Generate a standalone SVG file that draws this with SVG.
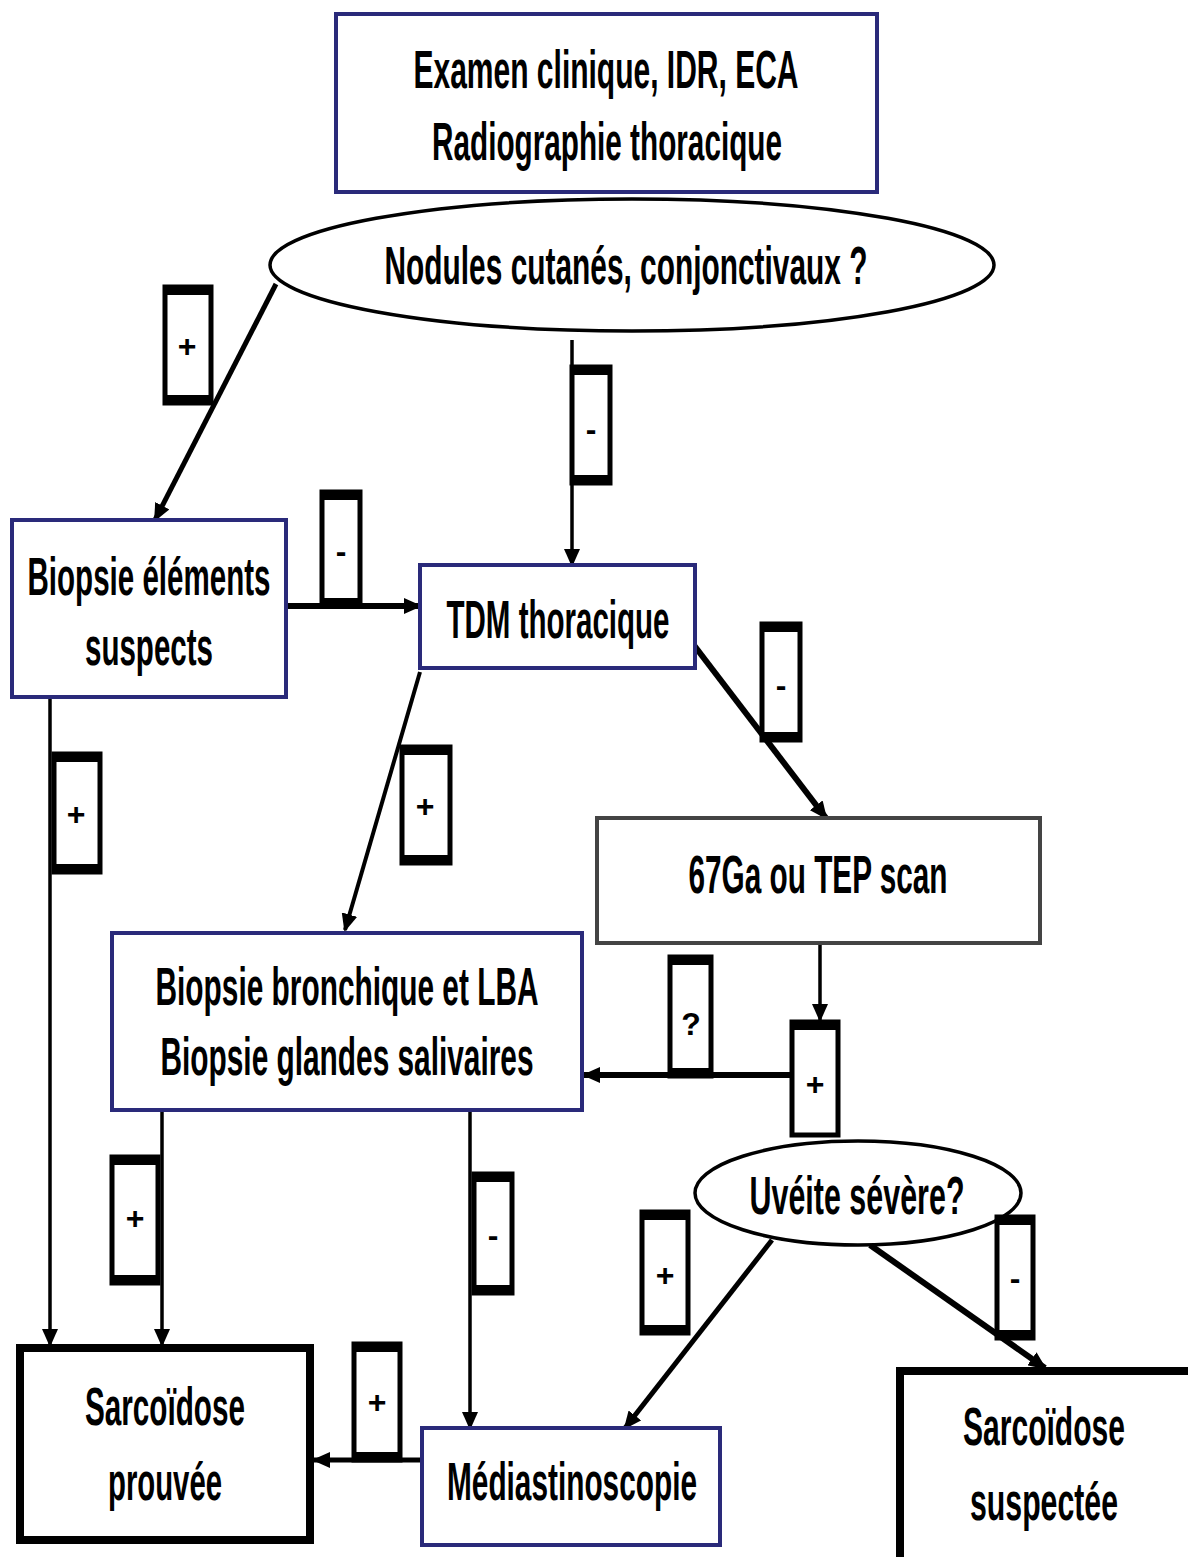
<svg xmlns="http://www.w3.org/2000/svg" width="1188" height="1557" viewBox="0 0 1188 1557">
<style>
.t{font-family:"Liberation Sans",Arial,sans-serif;font-weight:bold;font-size:54px;fill:#000;text-anchor:middle}
.tl{font-family:"Liberation Sans",Arial,sans-serif;font-weight:bold;font-size:32px;fill:#000;text-anchor:middle}
.nav{fill:#fff;stroke:#2a2a7a;stroke-width:4}
.gry{fill:#fff;stroke:#444;stroke-width:4}
.blk{fill:#fff;stroke:#000;stroke-width:8}
.ell{fill:#fff;stroke:#000;stroke-width:3.5}
.c{stroke:#000;fill:none;marker-end:url(#ah)}
.lb{fill:#fff;stroke:#000;stroke-width:5}
.bar{fill:#000}
</style>
<defs>
<marker id="ah" markerUnits="userSpaceOnUse" markerWidth="18" markerHeight="16" refX="16" refY="8" orient="auto">
<path d="M0,0 L18,8 L0,16 z" fill="#000"/>
</marker>
</defs>
<rect width="1188" height="1557" fill="#fff"/>

<g id="connectors">
<line class="c" x1="276" y1="284" x2="155" y2="520" stroke-width="5"/>
<line class="c" x1="572" y1="340" x2="572" y2="565" stroke-width="3.5"/>
<line class="c" x1="286" y1="606" x2="420" y2="606" stroke-width="6"/>
<line class="c" x1="690" y1="640" x2="826" y2="818" stroke-width="6"/>
<line class="c" x1="50" y1="697" x2="50" y2="1345" stroke-width="3.5"/>
<line class="c" x1="420" y1="672" x2="345" y2="930" stroke-width="4"/>
<line class="c" x1="820" y1="930" x2="820" y2="1020" stroke-width="3.5"/>
<line class="c" x1="790" y1="1075" x2="584" y2="1075" stroke-width="6"/>
<line class="c" x1="162" y1="1092" x2="162" y2="1345" stroke-width="3.5"/>
<line class="c" x1="470" y1="1090" x2="470" y2="1428" stroke-width="3.5"/>
<line class="c" x1="772" y1="1240" x2="625" y2="1428" stroke-width="5"/>
<line class="c" x1="870" y1="1245" x2="1045" y2="1368" stroke-width="6"/>
<line class="c" x1="422" y1="1460" x2="314" y2="1460" stroke-width="5"/>
</g>

<g id="n-examen">
<rect class="nav" x="336" y="14" width="541" height="178"/>
<text class="t" x="606" y="88" textLength="385" lengthAdjust="spacingAndGlyphs">Examen clinique, IDR, ECA</text>
<text class="t" x="607" y="160" textLength="350" lengthAdjust="spacingAndGlyphs">Radiographie thoracique</text>
</g>

<g id="n-nodules">
<ellipse class="ell" cx="632" cy="265" rx="362" ry="66"/>
<text class="t" x="626" y="284" textLength="483" lengthAdjust="spacingAndGlyphs">Nodules cutanés, conjonctivaux ?</text>
</g>

<g id="n-biopsie-el">
<rect class="nav" x="12" y="520" width="274" height="177"/>
<text class="t" x="149" y="595" textLength="243" lengthAdjust="spacingAndGlyphs">Biopsie éléments</text>
<text class="t" x="149" y="665" textLength="128" lengthAdjust="spacingAndGlyphs">suspects</text>
</g>

<g id="n-tdm">
<rect class="nav" x="420" y="565" width="275" height="103"/>
<text class="t" x="558" y="638" textLength="223" lengthAdjust="spacingAndGlyphs">TDM thoracique</text>
</g>

<g id="n-67ga">
<rect class="gry" x="597" y="818" width="443" height="125"/>
<text class="t" x="818" y="893" textLength="259" lengthAdjust="spacingAndGlyphs">67Ga ou TEP scan</text>
</g>

<g id="n-biopsie-br">
<rect class="nav" x="112" y="933" width="470" height="177"/>
<text class="t" x="347" y="1005" textLength="383" lengthAdjust="spacingAndGlyphs">Biopsie bronchique et LBA</text>
<text class="t" x="347" y="1075" textLength="373" lengthAdjust="spacingAndGlyphs">Biopsie glandes salivaires</text>
</g>

<g id="n-uveite">
<ellipse class="ell" cx="858" cy="1193" rx="163" ry="52"/>
<text class="t" x="857" y="1214" font-size="46" textLength="215" lengthAdjust="spacingAndGlyphs">Uvéite sévère?</text>
</g>

<g id="n-sarc-prouvee">
<rect class="blk" x="20" y="1348" width="290" height="192"/>
<text class="t" x="165" y="1425" textLength="160" lengthAdjust="spacingAndGlyphs">Sarcoïdose</text>
<text class="t" x="165" y="1500" textLength="114" lengthAdjust="spacingAndGlyphs">prouvée</text>
</g>

<g id="n-mediastino">
<rect class="nav" x="422" y="1428" width="298" height="117"/>
<text class="t" x="572" y="1500" textLength="250" lengthAdjust="spacingAndGlyphs">Médiastinoscopie</text>
</g>

<g id="n-sarc-suspectee">
<rect class="blk" x="900" y="1371" width="300" height="200"/>
<text class="t" x="1044" y="1445" textLength="162" lengthAdjust="spacingAndGlyphs">Sarcoïdose</text>
<text class="t" x="1044" y="1520" textLength="148" lengthAdjust="spacingAndGlyphs">suspectée</text>
</g>

<g id="labels">
<g id="l1"><rect class="lb" x="165" y="287" width="46" height="116"/><rect class="bar" x="163" y="285" width="50" height="10"/><rect class="bar" x="163" y="395" width="50" height="10"/><text class="tl" x="187" y="357">+</text></g>
<g id="l2"><rect class="lb" x="572" y="367" width="38" height="116"/><rect class="bar" x="570" y="365" width="42" height="10"/><rect class="bar" x="570" y="475" width="42" height="10"/><text class="tl" x="591" y="440">-</text></g>
<g id="l3"><rect class="lb" x="322" y="492" width="38" height="114"/><rect class="bar" x="320" y="490" width="42" height="10"/><rect class="bar" x="320" y="598" width="42" height="10"/><text class="tl" x="341" y="562">-</text></g>
<g id="l4"><rect class="lb" x="762" y="624" width="38" height="116"/><rect class="bar" x="760" y="622" width="42" height="10"/><rect class="bar" x="760" y="732" width="42" height="10"/><text class="tl" x="781" y="696">-</text></g>
<g id="l5"><rect class="lb" x="54" y="754" width="46" height="118"/><rect class="bar" x="52" y="752" width="50" height="10"/><rect class="bar" x="52" y="864" width="50" height="10"/><text class="tl" x="76" y="825">+</text></g>
<g id="l6"><rect class="lb" x="402" y="747" width="48" height="116"/><rect class="bar" x="400" y="745" width="52" height="10"/><rect class="bar" x="400" y="855" width="52" height="10"/><text class="tl" x="425" y="817">+</text></g>
<g id="l7"><rect class="lb" x="670" y="957" width="41" height="119"/><rect class="bar" x="668" y="955" width="45" height="10"/><rect class="bar" x="668" y="1068" width="45" height="10"/><text class="tl" x="691" y="1035" font-weight="normal">?</text></g>
<g id="l8"><rect class="lb" x="792" y="1022" width="46" height="113"/><rect class="bar" x="790" y="1020" width="50" height="10"/><text class="tl" x="815" y="1095">+</text></g>
<g id="l9"><rect class="lb" x="112" y="1157" width="46" height="126"/><rect class="bar" x="110" y="1155" width="50" height="10"/><rect class="bar" x="110" y="1275" width="50" height="10"/><text class="tl" x="135" y="1229">+</text></g>
<g id="l10"><rect class="lb" x="474" y="1174" width="38" height="119"/><rect class="bar" x="472" y="1172" width="42" height="10"/><rect class="bar" x="472" y="1285" width="42" height="10"/><text class="tl" x="493" y="1246">-</text></g>
<g id="l11"><rect class="lb" x="642" y="1212" width="46" height="121"/><rect class="bar" x="640" y="1210" width="50" height="10"/><rect class="bar" x="640" y="1325" width="50" height="10"/><text class="tl" x="665" y="1286">+</text></g>
<g id="l12"><rect class="lb" x="997" y="1217" width="36" height="121"/><rect class="bar" x="995" y="1215" width="40" height="10"/><rect class="bar" x="995" y="1330" width="40" height="10"/><text class="tl" x="1015" y="1289">-</text></g>
<g id="l13"><rect class="lb" x="354" y="1344" width="46" height="116"/><rect class="bar" x="352" y="1342" width="50" height="10"/><rect class="bar" x="352" y="1452" width="50" height="10"/><text class="tl" x="377" y="1413">+</text></g>
</g>
</svg>
